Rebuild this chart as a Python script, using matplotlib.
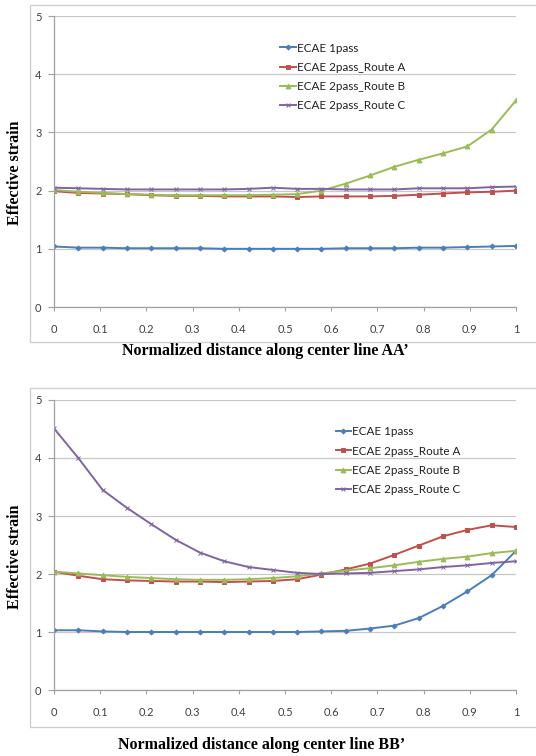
"""
Effective strain along center lines AA' and BB' for ECAE passes/routes.
"""
import numpy as np
import matplotlib
matplotlib.use("Agg")
import matplotlib.pyplot as plt
from matplotlib.patches import Rectangle

# 20 sample points along the normalized center line
dist = [i / 19 for i in range(20)]

labels = ["ECAE 1pass", "ECAE 2pass_Route A", "ECAE 2pass_Route B", "ECAE 2pass_Route C"]

# center line AA'
aa_1pass = [1.04, 1.02, 1.02, 1.01, 1.01, 1.01, 1.01, 1.00, 1.00, 1.00,
            1.00, 1.00, 1.01, 1.01, 1.01, 1.02, 1.02, 1.03, 1.04, 1.05]
aa_route_a = [1.99, 1.96, 1.95, 1.94, 1.92, 1.91, 1.91, 1.90, 1.90, 1.90,
              1.89, 1.90, 1.90, 1.90, 1.91, 1.93, 1.95, 1.97, 1.98, 2.00]
aa_route_b = [2.01, 1.98, 1.96, 1.94, 1.93, 1.92, 1.92, 1.92, 1.92, 1.93,
              1.94, 2.00, 2.12, 2.26, 2.41, 2.53, 2.64, 2.76, 3.05, 3.55]
aa_route_c = [2.05, 2.04, 2.03, 2.02, 2.02, 2.02, 2.02, 2.02, 2.03, 2.05,
              2.03, 2.03, 2.02, 2.02, 2.02, 2.04, 2.04, 2.04, 2.06, 2.07]

# center line BB'
bb_1pass = [1.03, 1.03, 1.01, 1.00, 1.00, 1.00, 1.00, 1.00, 1.00, 1.00,
            1.00, 1.01, 1.02, 1.06, 1.11, 1.24, 1.45, 1.70, 1.98, 2.40]
bb_route_a = [2.04, 1.97, 1.91, 1.89, 1.88, 1.87, 1.87, 1.86, 1.87, 1.88,
              1.91, 1.99, 2.08, 2.18, 2.33, 2.49, 2.65, 2.76, 2.84, 2.81]
bb_route_b = [2.04, 2.01, 1.98, 1.95, 1.93, 1.91, 1.90, 1.90, 1.91, 1.93,
              1.96, 2.01, 2.06, 2.10, 2.15, 2.21, 2.26, 2.30, 2.36, 2.40]
bb_route_c = [4.51, 4.00, 3.45, 3.14, 2.86, 2.59, 2.37, 2.22, 2.12, 2.07,
              2.02, 2.00, 2.01, 2.02, 2.05, 2.08, 2.12, 2.15, 2.19, 2.22]

xticks = [0, 0.1, 0.2, 0.3, 0.4, 0.5, 0.6, 0.7, 0.8, 0.9, 1]
xticklabels = ["0", "0.1", "0.2", "0.3", "0.4", "0.5", "0.6", "0.7", "0.8", "0.9", "1"]
yticks = [0, 1, 2, 3, 4, 5]

colors = ["#4A7EBB", "#C0504D", "#9BBB59", "#8064A2"]
markers = ["D", "s", "^", "x"]
msizes = [2.5, 3.5, 3.5, 2.8]

tick_font = "Lato"
label_font = "Liberation Serif"


def draw_panel(ax, series, legend_xy):
    for vals, lab, c, m, ms in zip(series, labels, colors, markers, msizes):
        ax.plot(dist, vals, color=c, marker=m, markersize=ms, linewidth=1.4,
                markeredgewidth=0.7, label=lab)
    ax.set_xlim(0, 1)
    ax.set_ylim(0, 5)
    ax.set_xticks(xticks)
    ax.set_xticklabels(xticklabels)
    ax.set_yticks(yticks)
    ax.grid(axis="y", color="#C8C8C8", linewidth=0.9)
    ax.set_axisbelow(True)
    for s in ["top", "right"]:
        ax.spines[s].set_visible(False)
    for s in ["left", "bottom"]:
        ax.spines[s].set_color("#A0A0A0")
        ax.spines[s].set_linewidth(0.9)
    ax.tick_params(axis="x", length=3, color="#A0A0A0", pad=9,
                   labelsize=8, labelcolor="#404040")
    ax.tick_params(axis="y", length=4, color="#A0A0A0", pad=5,
                   labelsize=8, labelcolor="#404040")
    for t in ax.get_xticklabels() + ax.get_yticklabels():
        t.set_family(tick_font)
    leg = ax.legend(loc="upper left", bbox_to_anchor=legend_xy, frameon=False,
                    handlelength=1.3, handletextpad=0.1, labelspacing=0.7,
                    prop={"family": tick_font, "size": 8.4}, borderaxespad=0)
    for t in leg.get_texts():
        t.set_color("#202020")


fig = plt.figure(figsize=(5.36, 7.56), dpi=100)

# chart area frames
fig.patches.append(Rectangle((0.056, 0.5476), 1.0, 0.4458, transform=fig.transFigure,
                             fill=False, edgecolor="#D0D0D0", linewidth=1.0))
fig.patches.append(Rectangle((0.056, 0.0384), 1.0, 0.4484, transform=fig.transFigure,
                             fill=False, edgecolor="#D0D0D0", linewidth=1.0))

ax1 = fig.add_axes([0.1007, 0.5939, 0.862, 0.3849])
draw_panel(ax1, [aa_1pass, aa_route_a, aa_route_b, aa_route_c], (0.48, 0.925))

ax2 = fig.add_axes([0.1007, 0.0873, 0.862, 0.3836])
draw_panel(ax2, [bb_1pass, bb_route_a, bb_route_b, bb_route_c], (0.60, 0.925))

fig.text(15 / 536, 1 - 173 / 756, "Effective strain", rotation=90, ha="center", va="center",
         family=label_font, weight="bold", fontsize=11.5)
fig.text(15 / 536, 1 - 557 / 756, "Effective strain", rotation=90, ha="center", va="center",
         family=label_font, weight="bold", fontsize=11.5)
fig.text(265 / 536, 1 - 351 / 756, "Normalized distance along center line AA\u2019",
         ha="center", va="center", family=label_font, weight="bold", fontsize=11.5)
fig.text(262 / 536, 1 - 745 / 756, "Normalized distance along center line BB\u2019",
         ha="center", va="center", family=label_font, weight="bold", fontsize=11.5)

fig.savefig("out.png", dpi=100)
